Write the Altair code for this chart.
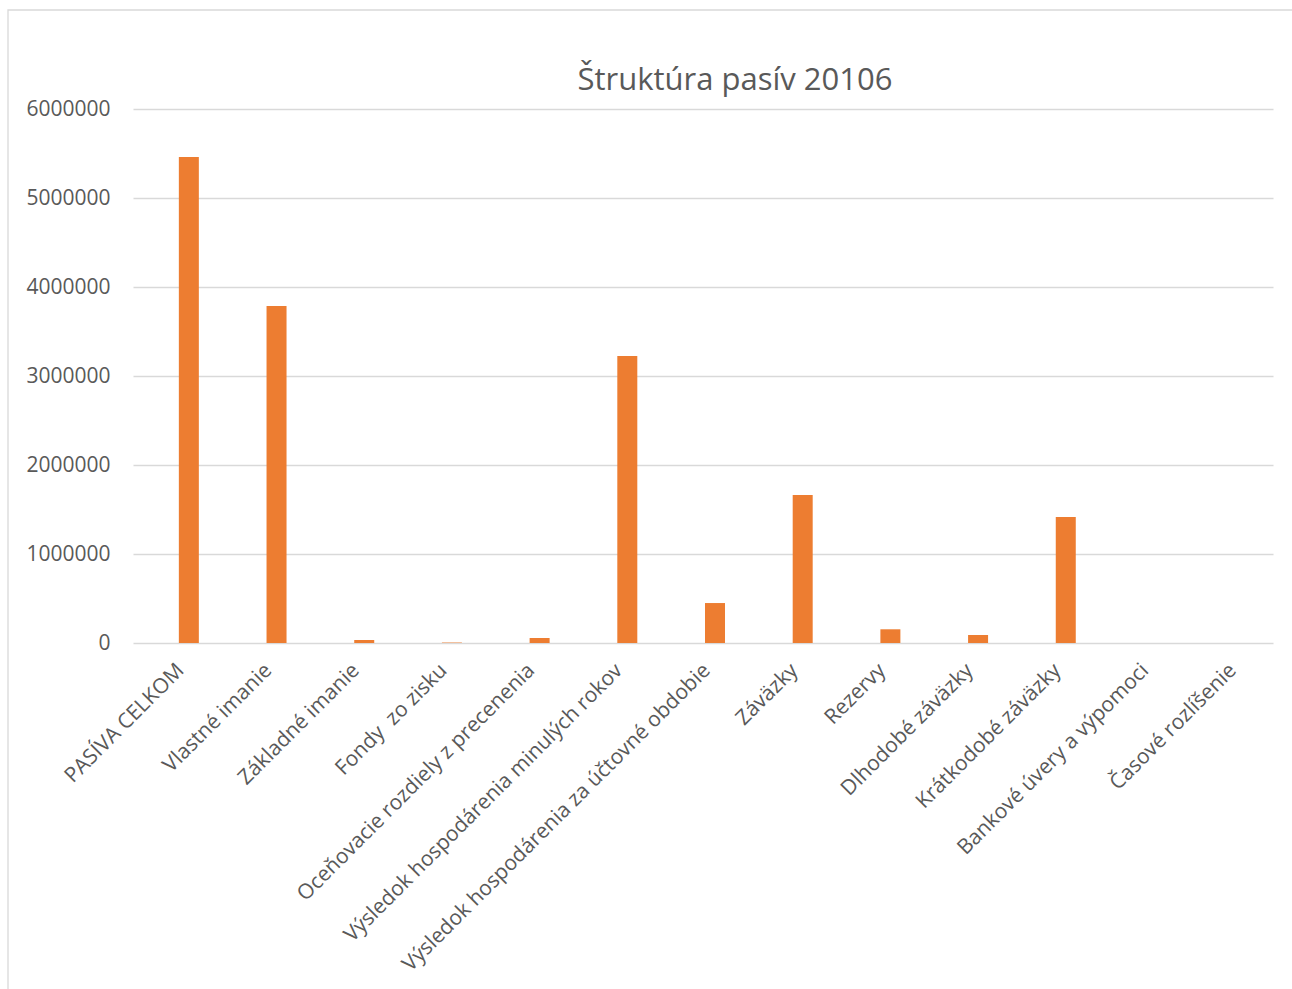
import altair as alt
import pandas as pd

categories = [
    "PASÍVA CELKOM",
    "Vlastné imanie",
    "Základné imanie",
    "Fondy\u00a0 zo zisku",
    "Oceňovacie rozdiely z precenenia",
    "Výsledok hospodárenia minulých rokov",
    "Výsledok hospodárenia za účtovné obdobie",
    "Záväzky",
    "Rezervy",
    "Dlhodobé záväzky",
    "Krátkodobé záväzky",
    "Bankové úvery a výpomoci",
    "Časové rozlíšenie",
]
values = [5460000, 3787000, 34000, 5000, 56000, 3225000, 449000,
          1663000, 154000, 90000, 1416000, 0, 0]
y_ticks = [0, 1000000, 2000000, 3000000, 4000000, 5000000, 6000000]
title_text = "Štruktúra pasív 20106"

df = pd.DataFrame({"cat": categories, "val": values})

FONT = "Open Sans"
GREY_TXT = "#595959"

x_enc = alt.X("cat:N", sort=categories, title=None,
              scale=alt.Scale(paddingInner=0, paddingOuter=0),
              axis=alt.Axis(labelAngle=-45, labelAlign="right", labelBaseline="middle",
                            labelFont=FONT, labelFontSize=21, labelColor=GREY_TXT,
                            labelOffset=4, labelPadding=24, grid=False,
                            ticks=False, domain=False, labelLimit=700))
y_enc = alt.Y("val:Q", title=None,
              scale=alt.Scale(domain=[0, 6000000], nice=False),
              axis=alt.Axis(values=y_ticks, format="d", labelFont=FONT, labelFontSize=21,
                            labelColor=GREY_TXT, labelPadding=23, ticks=False, domain=False,
                            gridColor="#d9d9d9", gridWidth=1.3))

bars = alt.Chart(df).mark_bar(color="#ED7D31", size=20, xOffset=12).encode(x=x_enc, y=y_enc)

frame = alt.Chart(pd.DataFrame({"k": [0]})).mark_rect(
    fill="transparent", stroke="#d9d9d9", strokeWidth=1.3
).encode(x=alt.value(-125), x2=alt.value(1200), y=alt.value(-99), y2=alt.value(1000))

title = alt.Chart(pd.DataFrame({"t": [title_text]})).mark_text(
    font=FONT, fontSize=31, color=GREY_TXT, align="center", baseline="alphabetic"
).encode(text="t:N", x=alt.value(602), y=alt.value(-19))

chart = alt.layer(frame, bars, title).properties(
    width=1140, height=534,
    background="white",
    autosize=alt.AutoSizeParams(type="none"),
    padding={"left": 133, "top": 109, "right": 19, "bottom": 346},
).configure_view(stroke="transparent", strokeWidth=0)

chart.save("out.html", embed_options={"renderer": "svg", "actions": False})
